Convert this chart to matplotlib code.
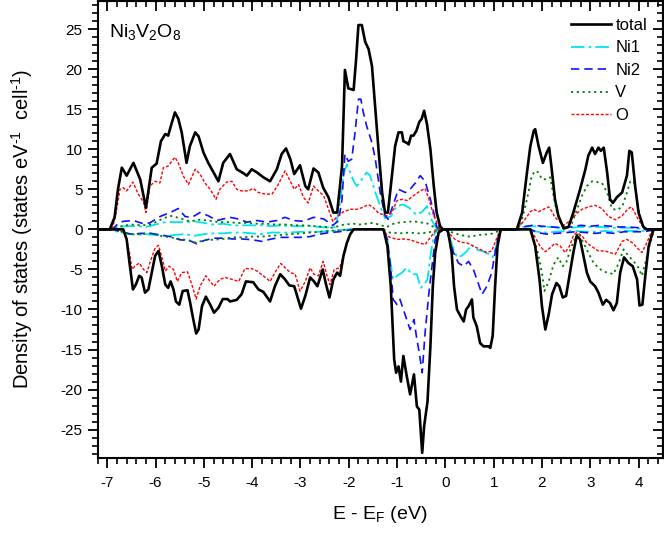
import matplotlib
matplotlib.use('Agg')
import matplotlib.pyplot as plt
from matplotlib.ticker import MultipleLocator

plt.rcParams['font.family'] = ['Liberation Sans', 'DejaVu Sans']
plt.rcParams['mathtext.fontset'] = 'custom'
plt.rcParams['mathtext.rm'] = 'Liberation Sans'
plt.rcParams['mathtext.it'] = 'Liberation Sans:italic'
plt.rcParams['mathtext.bf'] = 'Liberation Sans:bold'
plt.rcParams['axes.unicode_minus'] = False

# ---------------- data (energy in eV, DOS in states/eV/cell) ----------------
total_up_x = [-7.2, -6.95, -6.85, -6.78, -6.70, -6.60, -6.46, -6.32, -6.20, -6.08, -5.98, -5.89, -5.80, -5.74, -5.67,
              -5.60, -5.53, -5.46, -5.36, -5.29, -5.18, -5.11, -5.01, -4.91, -4.80, -4.70, -4.60, -4.46, -4.32, -4.18,
              -4.11, -4.01, -3.90, -3.77, -3.63, -3.49, -3.39, -3.30, -3.21, -3.13, -3.01, -2.90, -2.84, -2.73, -2.63,
              -2.53, -2.42, -2.32, -2.24, -2.14, -2.08, -2.01, -1.90, -1.85, -1.80, -1.73, -1.66, -1.59, -1.52, -1.45,
              -1.38, -1.31, -1.25, -1.19, -1.13, -1.04, -0.97, -0.90, -0.87, -0.80, -0.76, -0.71, -0.66, -0.60, -0.54,
              -0.49, -0.44, -0.38, -0.31, -0.24, -0.18, -0.11, -0.05, 1.48, 1.59, 1.69, 1.76, 1.83, 1.86, 1.93,
              2.02, 2.10, 2.15, 2.21, 2.27, 2.34, 2.45, 2.55, 2.65, 2.79, 2.90, 2.96, 3.04, 3.10, 3.17,
              3.22, 3.28, 3.35, 3.41, 3.47, 3.55, 3.66, 3.76, 3.81, 3.86, 3.93, 4.00, 4.10, 4.17, 4.5]
total_up = [0, 0, 1.5, 5.0, 7.7, 6.7, 8.3, 6.25, 2.7, 7.7, 8.2, 11.0, 11.9, 11.7, 13.2,
            14.6, 13.8, 12.1, 8.3, 10.4, 12.1, 11.6, 9.6, 8.3, 7.1, 6.0, 8.3, 9.4, 7.5, 7.0,
            6.7, 7.5, 7.1, 6.5, 6.0, 7.5, 9.4, 10.1, 8.75, 6.9, 8.0, 5.4, 5.0, 7.6, 7.1,
            5.2, 4.0, 2.1, 2.1, 7.9, 19.9, 17.6, 17.4, 21.1, 25.5, 25.5, 23.4, 22.5, 20.4, 15.0,
            9.6, 4.6, 2.1, 2.1, 5.4, 10.4, 12.1, 12.1, 11.0, 10.8, 10.6, 11.7, 11.7, 12.3, 13.4,
            13.8, 14.8, 13.1, 10.0, 5.4, 2.1, 0.4, 0, 0, 2.1, 7.1, 10.4, 12.3, 12.5, 10.4,
            8.3, 9.6, 10.2, 7.1, 3.75, 1.7, 0.1, 0.3, 2.1, 5.0, 7.5, 9.2, 10.2, 9.4, 10.2,
            9.8, 10.2, 7.1, 3.75, 3.3, 4.0, 4.6, 6.7, 9.8, 9.6, 5.4, 2.1, 0.3, 0, 0]

total_dn_x = [-7.2, -6.67, -6.60, -6.54, -6.47, -6.41, -6.34, -6.29, -6.22, -6.15, -6.08, -6.01, -5.94, -5.87, -5.80,
              -5.74, -5.69, -5.63, -5.58, -5.51, -5.44, -5.34, -5.29, -5.22, -5.16, -5.11, -5.04, -4.96, -4.87, -4.79,
              -4.70, -4.61, -4.51, -4.46, -4.32, -4.22, -4.13, -3.98, -3.87, -3.77, -3.63, -3.53, -3.42, -3.32, -3.23,
              -3.13, -2.99, -2.90, -2.80, -2.72, -2.65, -2.54, -2.47, -2.40, -2.32, -2.24, -2.18, -2.11, -2.04, -1.97,
              -1.90,
              -1.28, -1.20, -1.13, -1.09, -1.06, -1.02, -0.97, -0.92, -0.87, -0.80, -0.73, -0.65, -0.59, -0.54, -0.48,
              -0.44, -0.37, -0.31, -0.26, -0.21, -0.14, -0.04,
              0.02, 0.06, 0.13, 0.18, 0.24, 0.31, 0.38, 0.43, 0.48, 0.55, 0.58, 0.65, 0.72, 0.79, 0.90,
              0.93, 0.98, 1.03, 1.08, 1.14, 1.17,
              1.76, 1.86, 1.95, 2.00, 2.07, 2.14, 2.21, 2.30, 2.36, 2.43, 2.50, 2.57, 2.65, 2.72, 2.79,
              2.86, 2.93, 3.00, 3.10, 3.17, 3.26, 3.33, 3.41, 3.48, 3.55, 3.62, 3.70, 3.79, 3.88, 3.97,
              4.02, 4.08, 4.14, 4.21, 4.31, 4.5]
total_dn = [0, 0, -1.25, -4.2, -7.5, -6.9, -5.8, -6.0, -7.9, -7.5, -5.4, -3.3, -2.7, -4.6, -6.9,
            -7.3, -6.5, -7.5, -9.0, -9.4, -7.7, -7.6, -9.0, -11.25, -13.0, -12.5, -9.6, -8.4, -9.4, -10.4,
            -9.8, -8.7, -8.7, -9.0, -8.8, -8.1, -6.5, -6.6, -7.5, -7.8, -9.0, -7.1, -5.6, -6.25, -7.0,
            -7.1, -9.9, -8.3, -6.0, -6.5, -7.1, -5.0, -6.9, -8.5, -6.25, -5.4, -5.8, -3.3, -1.7, -0.6,
            0,
            0, -2.1, -7.1, -12.5, -16.25, -17.9, -17.1, -19.0, -15.8, -18.3, -20.6, -18.1, -22.1, -22.5, -27.9,
            -24.6, -21.5, -14.6, -7.1, -2.9, -0.4, 0,
            0, -0.4, -2.9, -7.1, -10.0, -10.8, -11.5, -10.0, -9.6, -8.75, -11.0, -12.1, -14.2, -14.6, -14.6,
            -14.8, -13.3, -7.1, -2.1, -0.2, 0,
            0, -2.1, -6.25, -9.6, -12.5, -10.6, -8.1, -6.7, -7.1, -8.5, -8.3, -5.8, -2.9, -0.8, -1.25,
            -3.3, -5.4, -6.5, -7.1, -7.9, -9.4, -8.8, -9.2, -10.1, -9.2, -5.4, -3.5, -4.2, -4.6, -6.25,
            -9.5, -9.4, -5.8, -2.1, 0, 0]

ni1_up_x = [-7.2, -6.9, -6.8, -6.6, -6.4, -6.2, -6.0, -5.8, -5.6, -5.4, -5.2, -5.0, -4.8, -4.6, -4.4,
            -4.2, -4.0, -3.8, -3.6, -3.4, -3.2, -3.0, -2.8, -2.6, -2.4, -2.27, -2.18, -2.11, -2.04, -1.97,
            -1.90, -1.83, -1.73, -1.63, -1.56, -1.49, -1.45, -1.35, -1.25, -1.13, -1.01, -0.88, -0.75, -0.60, -0.48,
            -0.38, -0.29, -0.18, -0.1, 1.48, 1.6, 1.8, 2.0, 2.2, 2.4, 2.6, 2.8, 3.0, 3.2, 3.4,
            3.6, 3.8, 4.0, 4.15, 4.5]
ni1_up = [0, 0, 0.3, 0.4, 0.4, 0.3, 0.6, 0.9, 0.9, 0.9, 1.0, 0.8, 0.6, 0.7, 0.5,
          0.5, 0.5, 0.5, 0.4, 0.5, 0.4, 0.4, 0.4, 0.3, 0.2, 0.3, 3.3, 6.9, 8.1, 7.1,
          6.0, 5.4, 6.25, 7.1, 6.7, 5.4, 4.6, 2.9, 1.4, 1.6, 2.9, 3.1, 2.7, 1.8, 2.2,
          2.9, 1.2, 0.1, 0, 0, 0.3, 0.4, 0.3, 0.3, 0.2, 0.2, 0.3, 0.3, 0.3, 0.2,
          0.2, 0.2, 0.1, 0, 0]
ni1_dn_x = [-7.2, -6.9, -6.8, -6.6, -6.4, -6.2, -6.0, -5.8, -5.6, -5.4, -5.2, -5.0, -4.8, -4.6, -4.4,
            -4.2, -4.0, -3.8, -3.6, -3.4, -3.2, -3.0, -2.8, -2.6, -2.4, -2.2, -2.0, -1.3, -1.20, -1.15,
            -1.08, -1.00, -0.90, -0.80, -0.70, -0.59, -0.51, -0.44, -0.37, -0.30, -0.23, -0.15, 0.02, 0.06, 0.17,
            0.24, 0.34, 0.45, 0.55, 0.62, 0.76, 0.90, 0.98, 1.07, 1.14, 1.2, 1.76, 1.9, 2.1, 2.3,
            2.5, 2.7, 2.9, 3.1, 3.3, 3.5, 3.7, 3.9, 4.1, 4.3, 4.5]
ni1_dn = [0, 0, -0.3, -0.5, -0.7, -0.6, -0.7, -0.8, -0.7, -0.6, -0.8, -0.6, -0.5, -0.5, -0.4,
          -0.4, -0.5, -0.6, -0.4, -0.4, -0.4, -0.3, -0.3, -0.3, -0.2, -0.1, 0, 0, -1.25, -3.75,
          -6.25, -5.8, -5.4, -4.8, -5.6, -5.6, -7.3, -6.9, -6.25, -2.9, -0.6, 0, 0, -0.4, -2.5,
          -3.5, -3.3, -2.7, -1.9, -2.5, -2.7, -3.1, -3.5, -1.7, -0.2, 0, 0, -0.3, -0.4, -0.3,
          -0.2, -0.2, -0.3, -0.3, -0.2, -0.3, -0.2, -0.2, -0.2, 0, 0]

ni2_up_x = [-7.2, -6.9, -6.77, -6.67, -6.46, -6.25, -6.12, -5.91, -5.70, -5.53, -5.39, -5.25, -5.08, -4.91, -4.73,
            -4.60, -4.46, -4.29, -4.11, -3.90, -3.70, -3.49, -3.32, -3.14, -2.94, -2.73, -2.52, -2.33, -2.21, -2.14,
            -2.08, -2.01, -1.94, -1.87, -1.80, -1.75, -1.70, -1.63, -1.52, -1.45, -1.35, -1.25, -1.18, -1.08, -0.97,
            -0.83, -0.73, -0.62, -0.52, -0.42, -0.31, -0.24, -0.18, -0.1, 1.48, 1.6, 1.8, 2.0, 2.2, 2.4,
            2.6, 2.8, 3.0, 3.2, 3.4, 3.6, 3.8, 4.0, 4.15, 4.5]
ni2_up = [0, 0, 0.75, 1.0, 1.1, 0.7, 0.8, 1.6, 2.1, 2.6, 1.6, 1.5, 2.1, 1.7, 1.1,
          1.3, 1.5, 1.3, 0.9, 1.1, 0.9, 1.1, 1.5, 1.1, 1.0, 1.5, 1.3, 0.5, 1.1, 3.75,
          9.4, 8.5, 8.75, 12.1, 16.25, 16.25, 14.6, 12.9, 10.8, 8.75, 4.6, 1.7, 1.25, 3.1, 5.0,
          4.6, 5.0, 5.8, 6.7, 6.0, 3.75, 2.1, 0.3, 0, 0, 0.3, 0.5, 0.4, 0.3, 0.2,
          0.3, 0.5, 0.4, 0.5, 0.4, 0.3, 0.3, 0.2, 0, 0]
ni2_dn_x = [-7.2, -6.85, -6.7, -6.5, -6.3, -6.1, -5.9, -5.7, -5.5, -5.3, -5.15, -5.0, -4.8, -4.6, -4.4,
            -4.2, -4.0, -3.8, -3.6, -3.4, -3.2, -3.0, -2.8, -2.6, -2.4, -2.2, -2.0, -1.9, -1.28, -1.20,
            -1.13, -1.08, -1.00, -0.94, -0.87, -0.80, -0.73, -0.65, -0.59, -0.54, -0.48, -0.42, -0.34, -0.26, -0.21,
            -0.14, -0.05, 0.02, 0.06, 0.17, 0.27, 0.38, 0.48, 0.58, 0.69, 0.76, 0.86, 0.96, 1.03, 1.10,
            1.17, 1.76, 1.9, 2.1, 2.3, 2.5, 2.7, 2.9, 3.1, 3.3, 3.5, 3.7, 3.9, 4.1, 4.3,
            4.35, 4.5]
ni2_dn = [0, 0, -0.4, -0.6, -0.5, -0.5, -0.7, -0.9, -1.3, -1.4, -1.8, -1.4, -1.1, -1.1, -1.2,
          -1.2, -1.3, -1.5, -1.2, -1.0, -1.0, -1.0, -0.9, -0.6, -0.4, -0.3, -0.1, 0, 0, -1.25,
          -5.0, -8.75, -9.4, -8.75, -10.0, -11.25, -12.5, -11.25, -13.75, -15.4, -17.9, -12.9, -7.9, -3.75, -1.25,
          -0.2, 0, 0, -0.8, -2.9, -4.2, -4.6, -4.0, -5.0, -6.9, -8.1, -7.1, -5.4, -2.9, -0.8,
          0, 0, -0.4, -0.6, -0.5, -0.4, -0.3, -0.4, -0.5, -0.4, -0.5, -0.3, -0.3, -0.3, -0.1,
          0, 0]

v_up_x = [-7.2, -6.9, -6.7, -6.5, -6.3, -6.1, -5.9, -5.7, -5.5, -5.3, -5.1, -4.9, -4.7, -4.5, -4.3,
          -4.1, -3.9, -3.7, -3.5, -3.3, -3.1, -2.9, -2.7, -2.5, -2.33, -2.1, -1.9, -1.78, -1.5, -1.21,
          -1.04, -0.66, -0.38, -0.18, -0.05, 1.48, 1.55, 1.69, 1.79, 1.86, 1.93, 2.00, 2.07, 2.17, 2.24,
          2.31, 2.41, 2.52, 2.62, 2.72, 2.83, 2.93, 3.04, 3.14, 3.24, 3.35, 3.45, 3.55, 3.66, 3.76,
          3.83, 3.90, 3.97, 4.04, 4.14, 4.2, 4.5]
v_up = [0, 0, 0.4, 0.6, 0.5, 0.6, 1.2, 1.7, 1.4, 1.0, 1.2, 1.1, 0.9, 0.9, 0.8,
        0.8, 0.7, 0.7, 0.6, 0.6, 0.5, 0.5, 0.4, 0.3, 0.2, 0.6, 0.7, 0.6, 0.8, 0.3,
        0.8, 1.0, 0.75, 0.1, 0, 0, 0.3, 3.75, 6.7, 7.3, 7.1, 6.25, 6.25, 6.5, 4.2,
        2.1, 0.5, 0.1, 0.75, 2.4, 4.2, 5.4, 6.0, 5.9, 5.8, 4.6, 2.6, 2.4, 2.8, 4.6,
        6.0, 6.0, 3.75, 1.2, 0.1, 0, 0]
v_dn_x = [-7.2, -6.85, -6.7, -6.5, -6.3, -6.1, -5.9, -5.7, -5.5, -5.3, -5.15, -5.0, -4.8, -4.6, -4.4,
          -4.2, -4.0, -3.8, -3.6, -3.4, -3.2, -3.0, -2.8, -2.6, -2.4, -2.2, -1.9, -1.3, -1.15, -0.95,
          -0.75, -0.55, -0.35, -0.2, -0.05, 0.02, 0.1, 0.3, 0.5, 0.7, 0.9, 1.0, 1.1, 1.17, 1.76,
          1.90, 2.00, 2.05, 2.14, 2.24, 2.34, 2.43, 2.50, 2.59, 2.69, 2.76, 2.86, 2.96, 3.07, 3.17,
          3.28, 3.38, 3.48, 3.59, 3.69, 3.79, 3.90, 4.00, 4.07, 4.14, 4.24, 4.32, 4.36, 4.5]
v_dn = [0, 0, -0.3, -0.6, -0.6, -0.5, -0.8, -1.0, -1.2, -1.4, -1.7, -1.3, -1.3, -1.2, -1.0,
        -1.0, -0.9, -0.9, -0.8, -0.7, -0.6, -0.5, -0.4, -0.3, -0.2, -0.1, 0, 0, -0.4, -0.5,
        -0.4, -0.5, -0.4, -0.1, 0, 0, -0.3, -0.7, -0.9, -0.7, -0.6, -0.5, -0.2, 0, 0,
        -2.5, -5.4, -7.7, -6.5, -4.4, -3.5, -4.6, -4.2, -2.5, -1.0, -0.4, -1.7, -2.9, -4.2, -4.8,
        -5.3, -5.4, -5.6, -4.2, -2.5, -3.3, -4.0, -4.8, -5.8, -4.2, -1.7, -0.2, 0, 0]

o_up_x = [-7.2, -6.9, -6.82, -6.74, -6.67, -6.60, -6.47, -6.36, -6.25, -6.20, -6.12, -6.01, -5.91, -5.84, -5.74,
          -5.60, -5.53, -5.43, -5.32, -5.18, -5.08, -4.98, -4.87, -4.75, -4.67, -4.53, -4.42, -4.32, -4.22, -4.08,
          -3.98, -3.87, -3.73, -3.59, -3.46, -3.32, -3.21, -3.13, -3.04, -2.94, -2.84, -2.73, -2.63, -2.52, -2.42,
          -2.33, -2.24, -2.11, -1.97, -1.83, -1.73, -1.59, -1.49, -1.38, -1.21, -1.11, -1.00, -0.90, -0.79, -0.66,
          -0.52, -0.42, -0.34, -0.24, -0.14, -0.05, 1.48, 1.62, 1.76, 1.83, 1.93, 2.03, 2.14, 2.21, 2.27,
          2.38, 2.45, 2.59, 2.72, 2.83, 2.96, 3.10, 3.24, 3.38, 3.52, 3.66, 3.79, 3.86, 3.97, 4.07,
          4.17, 4.5]
o_up = [0, 0, 2.0, 5.0, 5.2, 4.8, 5.9, 4.4, 3.4, 2.1, 5.4, 6.0, 5.8, 7.7, 7.9,
        9.0, 8.3, 6.7, 5.6, 7.5, 6.9, 5.8, 5.0, 3.75, 5.0, 5.9, 6.0, 5.0, 4.8, 4.8,
        5.1, 4.6, 4.4, 4.4, 5.6, 7.3, 6.0, 5.0, 5.6, 4.0, 3.3, 5.4, 4.8, 4.2, 2.5,
        1.0, 1.6, 2.2, 2.5, 2.5, 2.7, 3.1, 2.7, 2.0, 1.7, 2.1, 3.6, 3.75, 3.6, 4.2,
        4.8, 5.1, 3.75, 1.7, 0.4, 0, 0, 1.0, 2.2, 2.5, 2.2, 2.5, 2.8, 2.2, 1.5,
        0.9, 0.5, 1.1, 2.0, 2.5, 2.8, 3.0, 2.6, 1.6, 1.2, 1.7, 2.6, 2.8, 1.5, 0.5,
        0, 0]
o_dn_x = [-7.2, -6.67, -6.60, -6.53, -6.49, -6.43, -6.34, -6.25, -6.18, -6.12, -6.01, -5.94, -5.87, -5.80, -5.72,
          -5.63, -5.55, -5.46, -5.34, -5.25, -5.16, -5.08, -4.96, -4.87, -4.79, -4.67, -4.56, -4.42, -4.28, -4.15,
          -4.01, -3.90, -3.77, -3.63, -3.51, -3.41, -3.30, -3.21, -3.11, -3.01, -2.90, -2.80, -2.72, -2.63, -2.53,
          -2.46, -2.39, -2.30, -2.19, -2.11, -2.04, -1.97, -1.90, -1.30, -1.25, -1.15, -1.00, -0.87, -0.73, -0.59,
          -0.42, -0.31, -0.21, -0.1, 0.02, 0.06, 0.20, 0.31, 0.45, 0.58, 0.72, 0.86, 0.96, 1.07, 1.14,
          1.76, 1.86, 1.96, 2.07, 2.17, 2.27, 2.38, 2.48, 2.57, 2.65, 2.72, 2.83, 2.93, 3.07, 3.17,
          3.31, 3.41, 3.52, 3.66, 3.76, 3.88, 3.97, 4.07, 4.17, 4.26, 4.31, 4.5]
o_dn = [0, 0, -1.25, -3.3, -5.0, -4.6, -4.2, -5.0, -5.4, -4.2, -2.3, -2.0, -3.5, -5.2, -4.6,
        -5.0, -6.5, -5.4, -5.3, -6.9, -8.7, -7.1, -5.8, -6.5, -7.1, -6.25, -6.0, -6.25, -6.5, -4.9,
        -4.9, -5.2, -5.8, -6.5, -5.2, -4.25, -4.9, -5.4, -5.6, -7.7, -6.5, -4.8, -5.6, -5.8, -4.0,
        -5.6, -6.9, -5.0, -4.8, -3.3, -1.7, -0.6, 0, 0, -0.4, -1.0, -1.25, -1.2, -1.3, -1.6,
        -1.9, -1.0, -0.2, 0, 0, -0.4, -1.25, -1.6, -1.7, -2.1, -2.5, -2.9, -2.7, -1.0, 0,
        0, -1.0, -2.1, -2.8, -2.3, -1.75, -2.1, -2.9, -2.1, -0.8, -0.4, -0.8, -1.7, -2.3, -2.7,
        -2.7, -2.9, -3.1, -1.5, -1.25, -1.7, -2.3, -2.9, -1.7, -0.4, 0, 0]

labels = ['total', 'Ni1', 'Ni2', 'V', 'O']
colors = ['black', '#00E5EE', '#1010FF', '#008000', '#FF0000']

# ---------------- figure ----------------
fig = plt.figure(figsize=(6.64, 5.34), dpi=100)
ax = fig.add_axes([0.1471, 0.1429, 0.8509, 0.8552])

ls_ni1 = (0, (7.5, 2.2, 1.6, 2.2))
ls_ni2 = (0, (5.0, 3.0))
ls_v = (0, (1.2, 2.0))
ls_o = (0, (2.2, 1.3))

series = [
    (ni1_up_x, ni1_up, ni1_dn_x, ni1_dn, colors[1], ls_ni1, 1.3, labels[1]),
    (ni2_up_x, ni2_up, ni2_dn_x, ni2_dn, colors[2], ls_ni2, 1.2, labels[2]),
    (v_up_x, v_up, v_dn_x, v_dn, colors[3], ls_v, 1.3, labels[3]),
    (o_up_x, o_up, o_dn_x, o_dn, colors[4], ls_o, 1.0, labels[4]),
]

handles = []
h_tot, = ax.plot(total_up_x, total_up, color=colors[0], lw=1.9, zorder=5, label=labels[0])
ax.plot(total_dn_x, total_dn, color=colors[0], lw=1.9, zorder=5)
handles.append(h_tot)
for ux, uy, dx, dy, c, ls, lw, lab in series:
    h, = ax.plot(ux, uy, color=c, ls=ls, lw=lw, zorder=3, label=lab)
    ax.plot(dx, dy, color=c, ls=ls, lw=lw, zorder=3)
    handles.append(h)

ax.set_xlim(-7.2, 4.5)
ax.set_ylim(-28.5, 28.5)
ax.xaxis.set_major_locator(MultipleLocator(1))
ax.xaxis.set_minor_locator(MultipleLocator(0.2))
ax.yaxis.set_major_locator(MultipleLocator(5))
ax.yaxis.set_minor_locator(MultipleLocator(1))

for sp in ax.spines.values():
    sp.set_linewidth(1.5)

ax.tick_params(axis='both', which='major', direction='out', length=7, width=1.3, labelsize=11)
ax.tick_params(axis='x', which='major', pad=6.5)
ax.tick_params(axis='y', which='major', pad=4)
ax.tick_params(axis='both', which='minor', direction='out', length=4, width=1.2)
# mirror ticks on top/right pointing inward
ax_top = ax.secondary_xaxis('top')
ax_top.xaxis.set_major_locator(MultipleLocator(1))
ax_top.xaxis.set_minor_locator(MultipleLocator(0.2))
ax_top.tick_params(which='major', direction='in', length=7, width=1.3, labeltop=False)
ax_top.tick_params(which='minor', direction='in', length=4, width=1.2)
ax_top.spines['top'].set_linewidth(1.5)
ax_right = ax.secondary_yaxis('right')
ax_right.yaxis.set_major_locator(MultipleLocator(5))
ax_right.yaxis.set_minor_locator(MultipleLocator(1))
ax_right.tick_params(which='major', direction='in', length=7, width=1.3, labelright=False)
ax_right.tick_params(which='minor', direction='in', length=4, width=1.2)
ax_right.spines['right'].set_linewidth(1.5)

ax.set_xlabel(r'E - E$_\mathrm{F}$ (eV)', fontsize=14, labelpad=10)
ax.set_ylabel(r'Density of states (states eV$^{\text{-1}}$  cell$^{\text{-1}}$)', fontsize=14.5, labelpad=18)

ax.text(0.02, 0.953, r'Ni$_3$V$_2$O$_8$', transform=ax.transAxes, fontsize=14,
        ha='left', va='top')

leg = ax.legend(handles=handles, loc='upper right', bbox_to_anchor=(0.99, 0.985), frameon=False,
                fontsize=12, handlelength=2.4, handletextpad=0.25, labelspacing=0.45,
                borderaxespad=0.2)

fig.savefig('out.png', dpi=100)
